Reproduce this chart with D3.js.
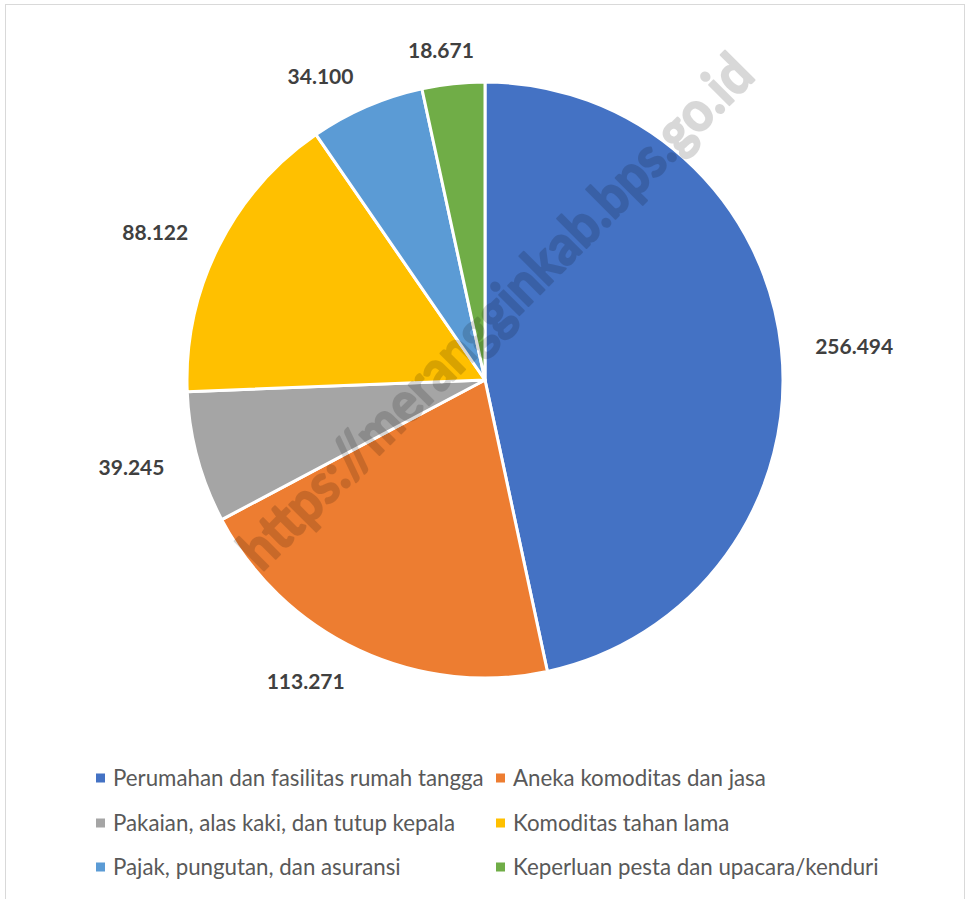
<!DOCTYPE html>
<html>
<head>
<meta charset="utf-8">
<script src="https://cdn.jsdelivr.net/npm/d3@7"></script>
<style>
  html, body { margin: 0; padding: 0; background: #fff; }
  svg { display: block; }
</style>
</head>
<body>
<svg id="chart" width="969" height="899"></svg>
<script>
const categories = [
  "Perumahan dan fasilitas rumah tangga",
  "Aneka komoditas dan jasa",
  "Pakaian, alas kaki, dan tutup kepala",
  "Komoditas tahan lama",
  "Pajak, pungutan, dan asuransi",
  "Keperluan pesta dan upacara/kenduri"
];
const values = [256.494, 113.271, 39.245, 88.122, 34.100, 18.671];
const valueLabels = ["256.494", "113.271", "39.245", "88.122", "34.100", "18.671"];
const colors = ["#4472C4", "#ED7D31", "#A5A5A5", "#FFC000", "#5B9BD5", "#70AD47"];
const watermark = "https://merangginkab.bps.go.id";

const svg = d3.select("#chart");

// chart border
svg.append("rect")
  .attr("x", 5.5).attr("y", 4.5)
  .attr("width", 959).attr("height", 920)
  .attr("fill", "#fff").attr("stroke", "#d9d9d9").attr("stroke-width", 1);

const cx = 485, cy = 380, r = 298;
const data = categories.map((c, i) => ({ name: c, value: values[i], label: valueLabels[i], color: colors[i] }));

const pie = d3.pie().value(d => d.value).sort(null);
const arcs = pie(data);
const arc = d3.arc().innerRadius(0).outerRadius(r);

const g = svg.append("g").attr("transform", `translate(${cx},${cy})`);
g.selectAll("path.slice")
  .data(arcs)
  .enter().append("path")
  .attr("class", "slice")
  .attr("d", arc)
  .attr("fill", d => d.data.color)
  .attr("stroke", "#fff")
  .attr("stroke-width", 3)
  .attr("stroke-linejoin", "round");

// data labels (outside end, Excel-like anchoring)
const labelR = r + 34;
g.selectAll("text.val")
  .data(arcs)
  .enter().append("text")
  .attr("class", "val")
  .attr("font-family", "Lato, 'Open Sans', sans-serif")
  .attr("font-weight", "bold")
  .attr("font-size", 21)
  .attr("fill", "#404040")
  .attr("text-anchor", "start")
  .attr("dominant-baseline", "central")
  .text(d => d.data.label)
  .each(function(d) {
    const a = (d.startAngle + d.endAngle) / 2;
    const w = this.getComputedTextLength();
    const s = Math.sin(a), c = -Math.cos(a);
    const px = labelR * s, py = labelR * c;
    const frac = Math.max(0, Math.min(1, 0.5 - 1.25 * s));
    d3.select(this).attr("x", px - frac * w).attr("y", py);
  });

// legend
const legCols = [96, 496];
const legRows = [778, 823, 867];
const leg = svg.append("g");
data.forEach((d, i) => {
  const col = i % 2, row = Math.floor(i / 2);
  const x = legCols[col], y = legRows[row];
  leg.append("rect")
    .attr("x", x).attr("y", y - 4.5)
    .attr("width", 9).attr("height", 9)
    .attr("fill", d.color);
  leg.append("text")
    .attr("x", x + 17).attr("y", y + 7.5)
    .attr("font-family", "Lato, 'Open Sans', sans-serif")
    .attr("font-size", 22.3)
    .attr("fill", "#595959")
    .text(d.name);
});

// watermark
svg.append("text")
  .attr("transform", "translate(494,310) rotate(-45)")
  .attr("text-anchor", "middle")
  .attr("dominant-baseline", "central")
  .attr("font-family", "Lato, 'Open Sans', sans-serif")
  .attr("font-weight", "bold")
  .attr("font-size", 56)
  .attr("textLength", 700)
  .attr("lengthAdjust", "spacingAndGlyphs")
  .attr("fill", "#000")
  .attr("stroke", "#000")
  .attr("stroke-width", 2)
  .attr("stroke-linejoin", "round")
  .attr("opacity", 0.15)
  .text(watermark);
</script>
</body>
</html>
